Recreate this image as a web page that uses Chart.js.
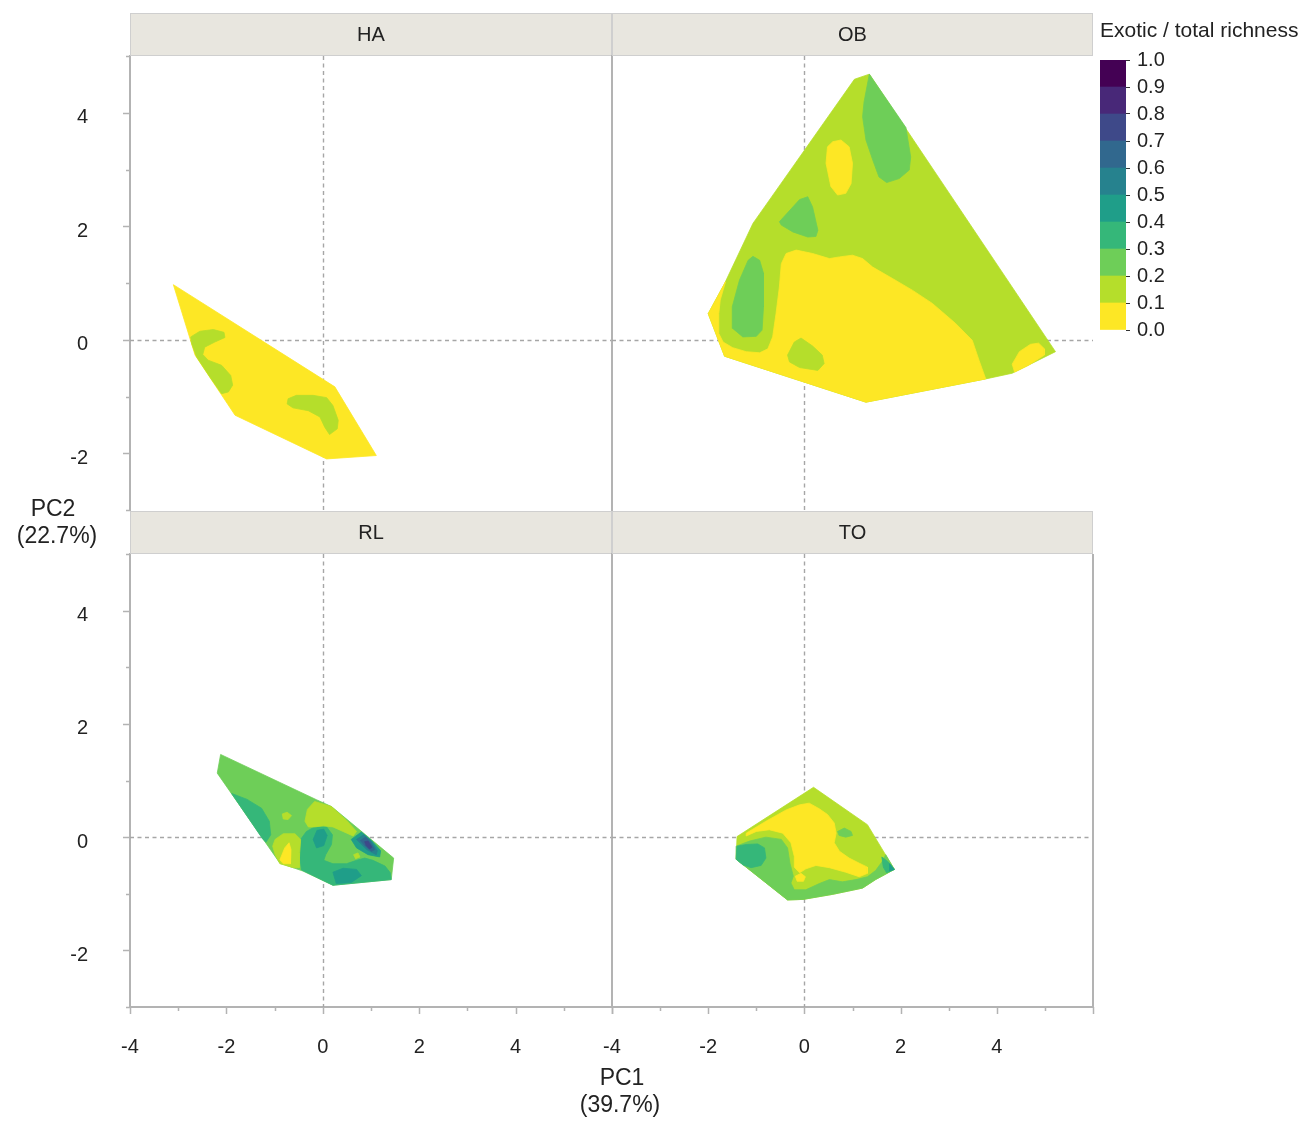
<!DOCTYPE html>
<html>
<head>
<meta charset="utf-8">
<title>Exotic / total richness across PCA space</title>
<script src="https://cdn.jsdelivr.net/npm/chart.js@4.4.1/dist/chart.umd.min.js"></script>
<style>
  html, body { margin: 0; padding: 0; background: #ffffff; }
  #wrap { position: relative; width: 1307px; height: 1122px; }
  #wrap canvas { position: absolute; left: 0; top: 0; }
</style>
</head>
<body>
<div id="wrap">
  <canvas id="cHA" width="1307" height="1122"></canvas>
  <canvas id="cOB" width="1307" height="1122"></canvas>
  <canvas id="cRL" width="1307" height="1122"></canvas>
  <canvas id="cTO" width="1307" height="1122"></canvas>
  <canvas id="cKey" width="1307" height="1122"></canvas>
</div>
<script>
// ---- Colour key: lower bound of each richness-ratio band, and tick labels ----
const bandBreaks = [0.0, 0.1, 0.2, 0.3, 0.4, 0.5, 0.6, 0.7, 0.8, 0.9];
const keyTicks = [0.0, 0.1, 0.2, 0.3, 0.4, 0.5, 0.6, 0.7, 0.8, 0.9, 1.0];
const bandColours = ['#fde725', '#b5de2b', '#6ece58', '#35b779', '#1f9e89',
                     '#26828e', '#31688e', '#3e4989', '#482878', '#440154'];

// ---- Axis ticks (PC1, PC2) ----
const pc1Ticks = [-4, -3, -2, -1, 0, 1, 2, 3, 4, 5, 6];
const pc2Ticks = [-3, -2, -1, 0, 1, 2, 3, 4, 5];

// ---- Contour regions, vertices in (PC1, PC2) ----
// HA
const haHull   = [[-3.10,0.97],[-2.65,-0.27],[-1.82,-1.33],[0.08,-2.10],[1.11,-2.04],[0.25,-0.83]];
const haPatchA = [[-2.74,0.05],[-2.55,0.15],[-2.27,0.18],[-2.05,0.13],[-2.03,0.04],[-2.24,-0.04],[-2.45,-0.13],
                  [-2.49,-0.26],[-2.38,-0.36],[-2.10,-0.45],[-1.91,-0.63],[-1.87,-0.80],[-1.96,-0.92],[-2.10,-0.95],
                  [-2.34,-0.66],[-2.62,-0.30],[-2.72,-0.07]];
const haPatchB = [[-0.72,-1.04],[-0.55,-0.98],[-0.20,-0.98],[0.08,-1.02],[0.21,-1.16],[0.32,-1.42],[0.30,-1.57],
                  [0.14,-1.67],[0.04,-1.54],[-0.06,-1.36],[-0.30,-1.25],[-0.62,-1.20],[-0.74,-1.13]];

// OB
const obHull      = [[1.35,4.68],[1.04,4.59],[-1.07,2.05],[-1.66,0.99],[-2.00,0.46],[-1.66,-0.29],[1.28,-1.10],
                     [3.77,-0.69],[4.32,-0.59],[5.22,-0.21]];
const obLow       = [[-1.64,1.02],[-2.00,0.46],[-1.66,-0.29],[1.28,-1.10],[3.77,-0.69],[3.63,-0.36],[3.49,-0.01],
                     [3.14,0.29],[2.66,0.64],[2.25,0.87],[1.83,1.08],[1.42,1.28],[1.21,1.43],[1.00,1.49],[0.73,1.46],
                     [0.52,1.43],[0.17,1.52],[-0.17,1.58],[-0.38,1.52],[-0.48,1.34],[-0.52,0.93],[-0.59,0.46],
                     [-0.66,0.05],[-0.76,-0.16],[-0.93,-0.23],[-1.21,-0.21],[-1.49,-0.14],[-1.69,-0.04],[-1.78,0.11],
                     [-1.78,0.46],[-1.75,0.70]];
const obPeakTop   = [[1.35,4.68],[1.24,4.19],[1.21,3.93],[1.28,3.52],[1.42,3.17],[1.55,2.87],[1.71,2.77],[1.97,2.84],
                     [2.18,2.99],[2.21,3.22],[2.11,3.74]];
const obPeakMid   = [[-0.52,2.08],[-0.10,2.47],[0.07,2.52],[0.17,2.34],[0.28,1.93],[0.24,1.82],[0.07,1.81],
                     [-0.24,1.90],[-0.48,2.02]];
const obPeakLeft  = [[-1.07,1.47],[-0.93,1.40],[-0.85,1.17],[-0.85,0.58],[-0.88,0.17],[-1.00,0.06],[-1.28,0.05],
                     [-1.49,0.20],[-1.50,0.58],[-1.35,1.05],[-1.17,1.40]];
const obDipTop    = [[0.59,3.49],[0.76,3.52],[0.93,3.40],[1.00,3.11],[0.97,2.75],[0.86,2.58],[0.69,2.55],
                     [0.55,2.70],[0.45,3.11],[0.48,3.40]];
const obDipRight  = [[4.32,-0.43],[4.47,-0.21],[4.70,-0.08],[4.87,-0.06],[4.99,-0.16],[4.99,-0.27],[4.66,-0.45],[4.37,-0.57]];
const obRiseLow   = [[-0.35,-0.27],[-0.21,-0.04],[-0.07,0.03],[0.17,-0.11],[0.37,-0.27],[0.41,-0.42],[0.28,-0.54],
                     [-0.10,-0.49],[-0.31,-0.39]];

// RL
const rlHull      = [[-2.12,1.46],[-2.19,1.13],[-0.89,-0.46],[-0.41,-0.60],[0.21,-0.85],[1.42,-0.75],[1.47,-0.37],
                     [0.18,0.54],[-0.13,0.66]];
const rlMidLeft   = [[-1.89,0.77],[-1.58,0.67],[-1.27,0.51],[-1.11,0.28],[-1.08,0.04],[-1.18,-0.09],[-1.25,-0.03]];
const rlMidMain   = [[-0.46,-0.04],[-0.34,0.10],[-0.17,0.18],[0.08,0.18],[0.20,0.04],[0.18,-0.13],[0.06,-0.31],
                     [0.02,-0.41],[0.21,-0.47],[0.49,-0.47],[0.70,-0.41],[0.87,-0.37],[1.04,-0.41],[1.29,-0.51],
                     [1.40,-0.63],[1.42,-0.75],[0.21,-0.85],[-0.27,-0.65],[-0.44,-0.58],[-0.48,-0.34]];
const rlLowTop    = [[-0.37,0.28],[-0.32,0.49],[-0.17,0.63],[0.18,0.54],[0.49,0.30],[0.70,0.10],[0.63,0.02],
                     [0.42,0.10],[0.21,0.18],[0.01,0.20],[-0.17,0.18],[-0.30,0.18]];
const rlLowDot    = [[-0.84,0.41],[-0.74,0.44],[-0.65,0.38],[-0.72,0.31],[-0.82,0.32]];
const rlLowLeft   = [[-0.99,-0.04],[-0.82,0.06],[-0.58,0.06],[-0.46,-0.04],[-0.48,-0.28],[-0.49,-0.54],[-0.61,-0.54],
                     [-0.89,-0.47],[-0.99,-0.31],[-1.04,-0.16]];
const rlMinimum   = [[-0.89,-0.40],[-0.79,-0.19],[-0.70,-0.10],[-0.66,-0.22],[-0.67,-0.47],[-0.82,-0.47]];
const rlHighA     = [[-0.20,-0.04],[-0.12,0.12],[0.02,0.14],[0.09,0.03],[0.02,-0.15],[-0.13,-0.19]];
const rlHighB     = [[0.21,-0.62],[0.42,-0.55],[0.70,-0.57],[0.80,-0.68],[0.59,-0.80],[0.28,-0.82]];
const rlHighC     = [[0.59,-0.04],[0.80,0.09],[1.01,-0.06],[1.20,-0.24],[1.18,-0.35],[0.94,-0.31],[0.70,-0.19]];
const rlCore1     = [[0.70,-0.04],[0.85,0.04],[1.00,-0.07],[1.13,-0.24],[1.11,-0.31],[0.91,-0.22]];
const rlCore2     = [[0.78,-0.06],[0.89,0.00],[0.98,-0.08],[1.08,-0.22],[1.01,-0.25],[0.87,-0.15]];
const rlCore3     = [[0.87,-0.08],[0.94,-0.07],[1.02,-0.18],[0.97,-0.21],[0.90,-0.15]];
const rlLowDot2   = [[0.64,-0.31],[0.73,-0.28],[0.77,-0.35],[0.68,-0.38]];

// TO
const toHull      = [[0.19,0.88],[1.31,0.22],[1.87,-0.57],[1.48,-0.75],[1.21,-0.90],[0.59,-1.01],[-0.03,-1.10],
                     [-0.35,-1.11],[-1.42,-0.39],[-1.40,0.01]];
const toMidBand   = [[-1.42,-0.16],[-1.14,-0.07],[-0.80,0.00],[-0.48,-0.04],[-0.35,-0.19],[-0.30,-0.46],[-0.23,-0.69],
                     [-0.28,-0.81],[-0.21,-0.93],[0.03,-0.93],[0.31,-0.82],[0.52,-0.75],[0.79,-0.79],[1.07,-0.75],
                     [1.31,-0.70],[1.48,-0.59],[1.61,-0.44],[1.69,-0.31],[1.87,-0.57],[1.48,-0.75],[1.21,-0.90],
                     [0.59,-1.01],[-0.03,-1.10],[-0.35,-1.11],[-1.42,-0.39]];
const toHighLeft  = [[-1.40,-0.16],[-1.21,-0.13],[-0.97,-0.12],[-0.83,-0.19],[-0.80,-0.37],[-0.90,-0.50],[-1.11,-0.54],
                     [-1.28,-0.49],[-1.42,-0.39]];
const toHighTip   = [[1.61,-0.35],[1.73,-0.43],[1.87,-0.57],[1.71,-0.63],[1.64,-0.53]];
const toTopTip    = [[1.77,-0.47],[1.87,-0.57],[1.77,-0.60]];
const toZero      = [[-1.21,0.07],[-0.80,0.28],[-0.38,0.48],[-0.10,0.57],[0.10,0.60],[0.31,0.50],[0.48,0.40],
                     [0.62,0.25],[0.66,0.07],[0.62,-0.10],[0.73,-0.25],[0.93,-0.37],[1.14,-0.46],[1.31,-0.53],
                     [1.31,-0.64],[1.14,-0.70],[0.86,-0.62],[0.52,-0.54],[0.24,-0.50],[0.03,-0.56],[-0.10,-0.63],
                     [-0.21,-0.53],[-0.21,-0.34],[-0.28,-0.10],[-0.45,0.07],[-0.73,0.13],[-1.00,0.10],[-1.21,0.02]];
const toZeroDot   = [[-0.19,-0.69],[-0.07,-0.64],[0.02,-0.70],[-0.02,-0.78],[-0.15,-0.78]];
const toMidDot    = [[0.69,0.10],[0.83,0.16],[0.97,0.10],[1.00,0.03],[0.86,0.00],[0.72,0.03]];

// Each panel: [band lower bound, region], painted in list order
const haRegions = [[0.0, haHull], [0.1, haPatchA], [0.1, haPatchB]];
const obRegions = [[0.1, obHull], [0.0, obLow], [0.2, obPeakTop], [0.2, obPeakMid], [0.2, obPeakLeft],
                   [0.0, obDipTop], [0.0, obDipRight], [0.1, obRiseLow]];
const rlRegions = [[0.2, rlHull], [0.3, rlMidLeft], [0.3, rlMidMain], [0.1, rlLowTop], [0.1, rlLowDot],
                   [0.1, rlLowLeft], [0.0, rlMinimum], [0.4, rlHighA], [0.4, rlHighB], [0.4, rlHighC],
                   [0.5, rlCore1], [0.6, rlCore2], [0.7, rlCore3], [0.1, rlLowDot2]];
const toRegions = [[0.1, toHull], [0.2, toMidBand], [0.3, toHighLeft], [0.3, toHighTip], [0.4, toTopTip],
                   [0.0, toZero], [0.0, toZeroDot], [0.2, toMidDot]];

const panelNames = ['HA', 'OB', 'RL', 'TO'];
const xTitle = ['PC1', '(39.7%)'];
const yTitle = ['PC2', '(22.7%)'];
const keyTitle = 'Exotic / total richness';

// ---- Layout (page pixels) ----
const PAGE_W = 1307, PAGE_H = 1122;
const COL_EDGES = [[130, 612], [612, 1093]];
const ROW_EDGES = [[56, 510], [554, 1007]];
const STRIP_H = 43;
const FONT = "'Liberation Sans', Arial, Helvetica, sans-serif";
const TEXT = '#222222';
const AXIS_GREY = '#b3b3b3';

function bandColour(v) {
  return bandColours[Math.round(v * 10)];
}

// Facet decorations: dashed zero lines under the contours, strip, tick marks, right frame
const facetDeco = {
  id: 'facetDeco',
  beforeDatasetsDraw(chart, args, o) {
    const { ctx, chartArea: a, scales: { x, y } } = chart;
    ctx.save();
    ctx.strokeStyle = '#a6a6a6';
    ctx.lineWidth = 1.4;
    ctx.setLineDash([4, 3.5]);
    const x0 = Math.round(x.getPixelForValue(0)) + 0.5;
    const y0 = Math.round(y.getPixelForValue(0)) + 0.5;
    ctx.beginPath();
    ctx.moveTo(x0, a.top); ctx.lineTo(x0, a.bottom);
    ctx.moveTo(a.left, y0); ctx.lineTo(a.right, y0);
    ctx.stroke();
    ctx.restore();
  },
  afterDraw(chart, args, o) {
    const { ctx, chartArea: a, scales: { x, y } } = chart;
    ctx.save();
    // strip
    const sTop = a.top - STRIP_H;
    ctx.fillStyle = '#e8e6df';
    ctx.fillRect(a.left, sTop, a.right - a.left, STRIP_H);
    ctx.strokeStyle = '#cfcfcf';
    ctx.lineWidth = 1;
    ctx.strokeRect(a.left + 0.5, sTop + 0.5, a.right - a.left - 1, STRIP_H - 1);
    ctx.fillStyle = TEXT;
    ctx.font = '20px ' + FONT;
    ctx.textAlign = 'center';
    ctx.textBaseline = 'middle';
    ctx.fillText(o.label, (a.left + a.right) / 2, sTop + STRIP_H / 2 + 1);
    // tick marks
    ctx.strokeStyle = AXIS_GREY;
    ctx.lineWidth = 1.5;
    ctx.beginPath();
    if (o.col === 0) {
      pc2Ticks.forEach(v => {
        const py = Math.round(y.getPixelForValue(v)) + 0.5;
        const len = v % 2 === 0 ? 7 : 4;
        ctx.moveTo(a.left - len, py); ctx.lineTo(a.left, py);
      });
    }
    if (o.row === 1) {
      pc1Ticks.forEach(v => {
        const px = Math.round(x.getPixelForValue(v)) + 0.5;
        const len = v % 2 === 0 ? 7 : 4;
        ctx.moveTo(px, a.bottom); ctx.lineTo(px, a.bottom + len);
      });
    }
    ctx.stroke();
    if (o.frameRight) {
      ctx.lineWidth = 2;
      ctx.beginPath();
      ctx.moveTo(a.right, a.top); ctx.lineTo(a.right, a.bottom + 1);
      ctx.stroke();
    }
    ctx.restore();
  }
};

function makeFacet(canvasId, label, regions, col, row) {
  const [left, right] = COL_EDGES[col];
  const [top, bottom] = ROW_EDGES[row];
  const yAxisW = col === 0 ? left : 10;
  const xAxisH = PAGE_H - bottom;
  const datasets = regions.map(([level, pts], i) => ({
    data: pts.concat([pts[0]]).map(([px, py]) => ({ x: px, y: py })),
    showLine: true,
    fill: 'shape',
    backgroundColor: bandColour(level),
    borderColor: bandColour(level),
    borderWidth: 0.8,
    pointRadius: 0,
    pointHoverRadius: 0,
    tension: 0,
    order: regions.length - i
  }));
  return new Chart(document.getElementById(canvasId), {
    type: 'line',
    data: { datasets },
    options: {
      responsive: false,
      animation: false,
      devicePixelRatio: 1,
      events: [],
      layout: {
        autoPadding: false,
        padding: {
          left: left - yAxisW,
          right: PAGE_W - right,
          top: top,
          bottom: row === 1 ? 0 : PAGE_H - bottom
        }
      },
      plugins: {
        legend: { display: false },
        tooltip: { enabled: false },
        facetDeco: { label, col, row, frameRight: col === 1 && row === 1 }
      },
      scales: {
        x: {
          type: 'linear',
          min: -4, max: 6,
          display: row === 1,
          afterFit(s) { if (row === 1) { s.height = xAxisH; } },
          afterBuildTicks(s) { s.ticks = pc1Ticks.map(v => ({ value: v })); },
          ticks: {
            autoSkip: false, maxRotation: 0, padding: 28,
            color: TEXT, font: { family: FONT, size: 20 },
            callback: v => (v % 2 === 0 && v < 6) ? String(v) : ''
          },
          grid: { display: false, drawTicks: false },
          border: { display: true, color: AXIS_GREY, width: 2 }
        },
        y: {
          type: 'linear',
          min: -3, max: 5,
          afterFit(s) { s.width = yAxisW; },
          afterBuildTicks(s) { s.ticks = pc2Ticks.map(v => ({ value: v })); },
          ticks: {
            display: col === 0,
            autoSkip: false, padding: 42, labelOffset: 5,
            color: TEXT, font: { family: FONT, size: 20 },
            callback: v => v % 2 === 0 ? String(v) : ''
          },
          grid: { display: false, drawTicks: false },
          border: { display: true, color: AXIS_GREY, width: 2 }
        }
      }
    },
    plugins: [facetDeco]
  });
}

makeFacet('cHA', panelNames[0], haRegions, 0, 0);
makeFacet('cOB', panelNames[1], obRegions, 1, 0);
makeFacet('cRL', panelNames[2], rlRegions, 0, 1);
makeFacet('cTO', panelNames[3], toRegions, 1, 1);

// Shared axis titles and the colour-key title
const sharedText = {
  id: 'sharedText',
  afterDraw(chart) {
    const { ctx } = chart;
    ctx.save();
    ctx.fillStyle = TEXT;
    ctx.textBaseline = 'middle';
    ctx.textAlign = 'center';
    ctx.font = '23px ' + FONT;
    ctx.fillText(xTitle[0], 622, 1079);
    ctx.fillText(xTitle[1], 620, 1106);
    ctx.fillText(yTitle[0], 53, 510);
    ctx.fillText(yTitle[1], 57, 537);
    ctx.textAlign = 'left';
    ctx.font = '21px ' + FONT;
    ctx.fillText(keyTitle, 1100, 31);
    ctx.restore();
  }
};

// Colour key: one stacked segment per band
const KEY_LEFT = 1100, KEY_RIGHT = 1126, KEY_TOP = 60, KEY_BOTTOM = 330;
new Chart(document.getElementById('cKey'), {
  type: 'bar',
  data: {
    labels: [''],
    datasets: bandBreaks.map((lo, i) => ({
      data: [Number(((keyTicks[i + 1]) - lo).toFixed(2))],
      backgroundColor: bandColours[i],
      borderWidth: 0,
      barPercentage: 1,
      categoryPercentage: 1
    }))
  },
  options: {
    responsive: false,
    animation: false,
    devicePixelRatio: 1,
    events: [],
    layout: {
      autoPadding: false,
      padding: { left: KEY_LEFT, right: 0, top: KEY_TOP, bottom: PAGE_H - KEY_BOTTOM }
    },
    plugins: { legend: { display: false }, tooltip: { enabled: false } },
    scales: {
      x: { stacked: true, display: false },
      y: {
        stacked: true,
        position: 'right',
        min: 0, max: 1,
        afterFit(s) { s.width = PAGE_W - KEY_RIGHT; },
        afterBuildTicks(s) { s.ticks = keyTicks.map(v => ({ value: v })); },
        ticks: {
          padding: 7, color: TEXT, font: { family: FONT, size: 20 },
          callback: v => Number(v).toFixed(1)
        },
        grid: { display: true, drawOnChartArea: false, drawTicks: true, tickLength: 4,
                color: '#333333', tickColor: '#333333', lineWidth: 1 },
        border: { display: false }
      }
    }
  },
  plugins: [sharedText]
});
</script>
</body>
</html>
